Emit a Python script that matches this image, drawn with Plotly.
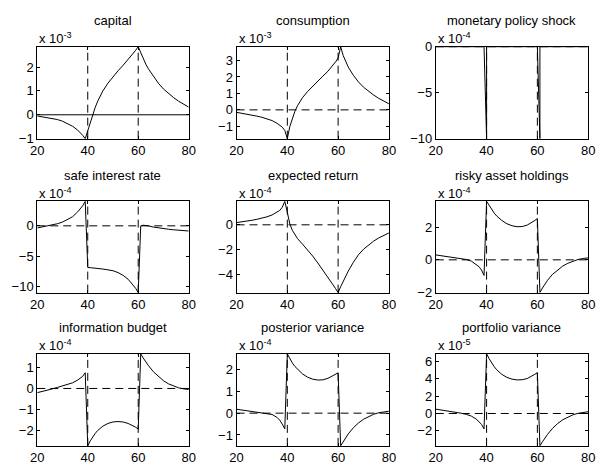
import plotly.graph_objects as go

# ---------------- data (values in the units shown on each panel) ----------------
t = [20, 22, 24, 26, 28, 30, 32, 34, 36, 37, 38, 39, 40, 41, 42, 43, 44, 46, 48, 50,
     52, 54, 56, 58, 59, 60, 61, 62, 63, 64, 66, 68, 70, 72, 74, 76, 78, 80]

capital = [-0.05, -0.08, -0.11, -0.15, -0.20, -0.27, -0.36, -0.48, -0.64, -0.74, -0.86, -1.00,
           -0.65, -0.30, 0.03, 0.32, 0.58, 1.00, 1.32, 1.60, 1.84, 2.07, 2.31, 2.56, 2.70, 2.85,
           2.58, 2.34, 2.12, 1.93, 1.60, 1.32, 1.08, 0.89, 0.72, 0.57, 0.44, 0.32]

consumption = [-0.15, -0.20, -0.26, -0.32, -0.38, -0.45, -0.54, -0.65, -0.82, -0.92, -1.05, -1.25,
               -1.75, -1.00, -0.50, -0.08, 0.25, 0.75, 1.12, 1.45, 1.75, 2.05, 2.35, 2.70, 2.92, 3.15,
               3.84, 3.30, 2.92, 2.60, 2.10, 1.70, 1.38, 1.12, 0.90, 0.70, 0.52, 0.37]

shock_t = [20, 39, 40, 40, 60, 61, 61, 80]
shock = [0, 0, -10, 0, 0, -10, 0, 0]

safe_rate = [-0.35, -0.20, -0.05, 0.12, 0.35, 0.62, 1.00, 1.50, 2.30, 2.75, 3.30, 4.04,
             -6.86, -6.89, -6.92, -6.96, -7.00, -7.12, -7.25, -7.40, -7.70, -8.15, -8.80, -9.75, -10.30, -11.00,
             0.00, 0.10, 0.08, 0.00, -0.20, -0.35, -0.47, -0.56, -0.65, -0.72, -0.79, -0.85]

expected_return = [0.18, 0.23, 0.29, 0.36, 0.44, 0.53, 0.64, 0.79, 1.00, 1.15, 1.40, 1.88,
                   1.00, 0.05, -0.45, -0.78, -1.10, -1.55, -2.00, -2.50, -3.05, -3.60, -4.20, -4.80, -5.10, -5.42,
                   -4.95, -4.50, -4.10, -3.70, -3.00, -2.40, -1.95, -1.60, -1.30, -1.05, -0.83, -0.65]

risky_assets = [0.30, 0.26, 0.22, 0.18, 0.13, 0.07, 0.02, -0.08, -0.28, -0.42, -0.62, -0.95,
                3.57, 3.30, 3.05, 2.85, 2.67, 2.40, 2.20, 2.08, 2.02, 2.03, 2.12, 2.28, 2.40, 2.52,
                -2.00, -1.72, -1.47, -1.25, -0.88, -0.60, -0.38, -0.21, -0.08, 0.02, 0.08, 0.12]

info_budget = [-0.20, -0.15, -0.09, -0.02, 0.05, 0.12, 0.19, 0.27, 0.40, 0.47, 0.58, 0.75,
               -2.74, -2.50, -2.30, -2.14, -2.00, -1.80, -1.67, -1.60, -1.58, -1.60, -1.67, -1.78, -1.85, -1.94,
               1.65, 1.45, 1.27, 1.10, 0.80, 0.56, 0.37, 0.22, 0.11, 0.03, -0.02, -0.05]

posterior_var = [0.18, 0.15, 0.12, 0.09, 0.06, 0.03, 0.00, -0.06, -0.20, -0.32, -0.50, -0.72,
                 2.72, 2.48, 2.30, 2.14, 2.01, 1.80, 1.65, 1.56, 1.52, 1.53, 1.60, 1.72, 1.78, 1.85,
                 -1.50, -1.30, -1.12, -0.95, -0.67, -0.45, -0.28, -0.15, -0.05, 0.02, 0.06, 0.09]

portfolio_var = [0.50, 0.42, 0.32, 0.22, 0.12, 0.03, -0.10, -0.30, -0.65, -0.90, -1.25, -1.77,
                 6.85, 6.30, 5.80, 5.38, 5.02, 4.50, 4.15, 3.95, 3.86, 3.88, 4.02, 4.30, 4.50, 4.70,
                 -3.72, -3.25, -2.80, -2.40, -1.70, -1.15, -0.72, -0.40, -0.15, 0.02, 0.13, 0.20]

shock_times = [40, 60]
x_ticks = [20, 40, 60, 80]

titles = ["capital", "consumption", "monetary policy shock",
          "safe interest rate", "expected return", "risky asset holdings",
          "information budget", "posterior variance", "portfolio variance"]
exponents = [-3, -3, -4, -4, -4, -4, -4, -4, -5]
y_ticks = [[-1, 0, 1, 2], [-1, 0, 1, 2, 3], [-10, -5, 0],
           [-10, -5, 0], [-4, -2, 0], [-2, 0, 2],
           [-2, -1, 0, 1], [-1, 0, 1, 2], [-2, 0, 2, 4, 6]]
series_x = [t, t, shock_t, t, t, t, t, t, t]
series_y = [capital, consumption, shock, safe_rate, expected_return,
            risky_assets, info_budget, posterior_var, portfolio_var]
dashed_zero = [False, True, True, True, True, True, True, True, True]

# ---------------- layout geometry (pixels) ----------------
W, H = 602, 471
col_px = [(31, 186), (235, 391), (439, 595)]
row_px = [(41, 136), (200.7, 295), (358.3, 453.3)]

FONT = "Liberation Sans, Arial, Helvetica, sans-serif"
DASH = "8px,5px"

fig = go.Figure()
layout = dict(width=W, height=H, margin=dict(l=0, r=0, t=0, b=0),
              paper_bgcolor="white", plot_bgcolor="white", showlegend=False,
              font=dict(family=FONT, size=13, color="black"))
shapes, annotations = [], []

for k in range(9):
    r, c = divmod(k, 3)
    sfx = "" if k == 0 else str(k + 1)
    xn, yn = "x" + sfx, "y" + sfx
    x0, x1 = col_px[c]
    ytop, ybot = row_px[r]
    ys = series_y[k]
    fig.add_trace(go.Scatter(x=series_x[k], y=ys, mode="lines",
                             line=dict(color="black", width=1),
                             xaxis=xn, yaxis=yn, hoverinfo="skip"))
    common = dict(showline=True, linecolor="black", linewidth=1, mirror="ticks",
                  ticks="inside", ticklen=3, tickcolor="black", showgrid=False,
                  zeroline=False, tickfont=dict(family=FONT, size=13, color="black"))
    layout["xaxis" + sfx] = dict(domain=[x0 / W, x1 / W], range=[20, 80], tickvals=x_ticks,
                                 anchor=yn, **common)
    layout["yaxis" + sfx] = dict(domain=[1 - ybot / H, 1 - ytop / H],
                                 range=[min(ys), max(ys)], tickvals=y_ticks[k],
                                 anchor=xn, **common)
    for st in shock_times:
        shapes.append(dict(type="line", xref=xn, yref=yn + " domain", x0=st, x1=st, y0=0, y1=1,
                           line=dict(color="black", width=1, dash=DASH)))
    shapes.append(dict(type="line", xref=xn + " domain", yref=yn, x0=0, x1=1, y0=0, y1=0,
                       line=dict(color="black", width=1, dash=DASH if dashed_zero[k] else "solid")))
    annotations.append(dict(text=titles[k], xref="paper", yref="paper",
                            x=(x0 + x1) / 2 / W, y=1 - (ytop - 27) / H,
                            xanchor="center", yanchor="middle", showarrow=False,
                            font=dict(family=FONT, size=13, color="black")))
    annotations.append(dict(text="x 10<sup>%d</sup>" % exponents[k], xref="paper", yref="paper",
                            x=x0 / W, y=1 - (ytop - 9) / H,
                            xanchor="left", yanchor="middle", showarrow=False,
                            font=dict(family=FONT, size=13, color="black")))

layout["shapes"] = shapes
layout["annotations"] = annotations
fig.update_layout(**layout)
fig.write_html("out.html")
